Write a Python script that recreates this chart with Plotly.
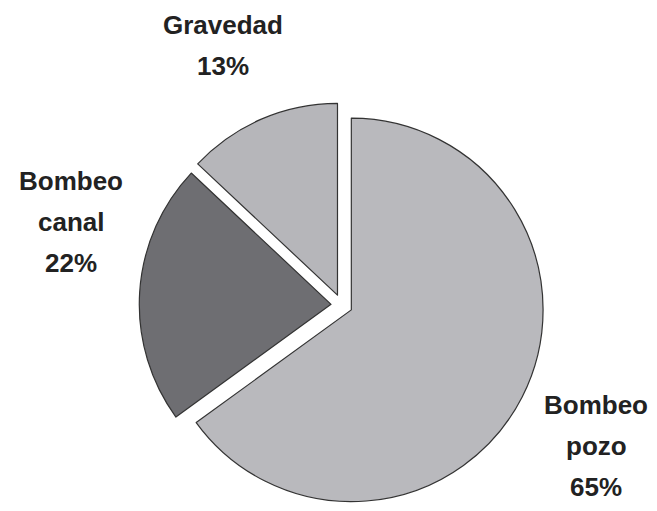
import plotly.graph_objects as go

labels = ["Bombeo pozo", "Bombeo canal", "Gravedad"]
values = [65, 22, 13]
colors = ["#b9b9bd", "#6e6e72", "#b6b6ba"]

# label placement (pixel centre of first line, page body offset already removed)
label_px = [(588, 397), (63, 173), (215, 17)]
line_gap = 41
W, H = 657, 511

fig = go.Figure()

fig.add_pie(
    labels=labels,
    values=values,
    textinfo="none",
    sort=False,
    direction="clockwise",
    rotation=0,
    pull=[0.056, 0.056, 0.056],
    marker=dict(colors=colors, line=dict(color="#333333", width=1.2)),
    domain=dict(x=[0.1998, 0.8162], y=[0.0225, 0.8151]),
    showlegend=False,
    hoverinfo="label+percent",
)

total = sum(values)
for lab, v, (px, py) in zip(labels, values, label_px):
    lines = lab.split(" ") + [f"{round(100 * v / total)}%"]
    for i, line in enumerate(lines):
        fig.add_annotation(
            x=px / W,
            y=1 - (py + i * line_gap) / H,
            xref="paper",
            yref="paper",
            text=f"<b>{line}</b>",
            showarrow=False,
            xanchor="center",
            yanchor="middle",
        )

fig.update_layout(
    width=W,
    height=H,
    margin=dict(l=0, r=0, t=0, b=0),
    paper_bgcolor="white",
    plot_bgcolor="white",
    font=dict(family="Liberation Sans, Arial", size=26, color="#222222"),
)

fig.write_html("out.html")
